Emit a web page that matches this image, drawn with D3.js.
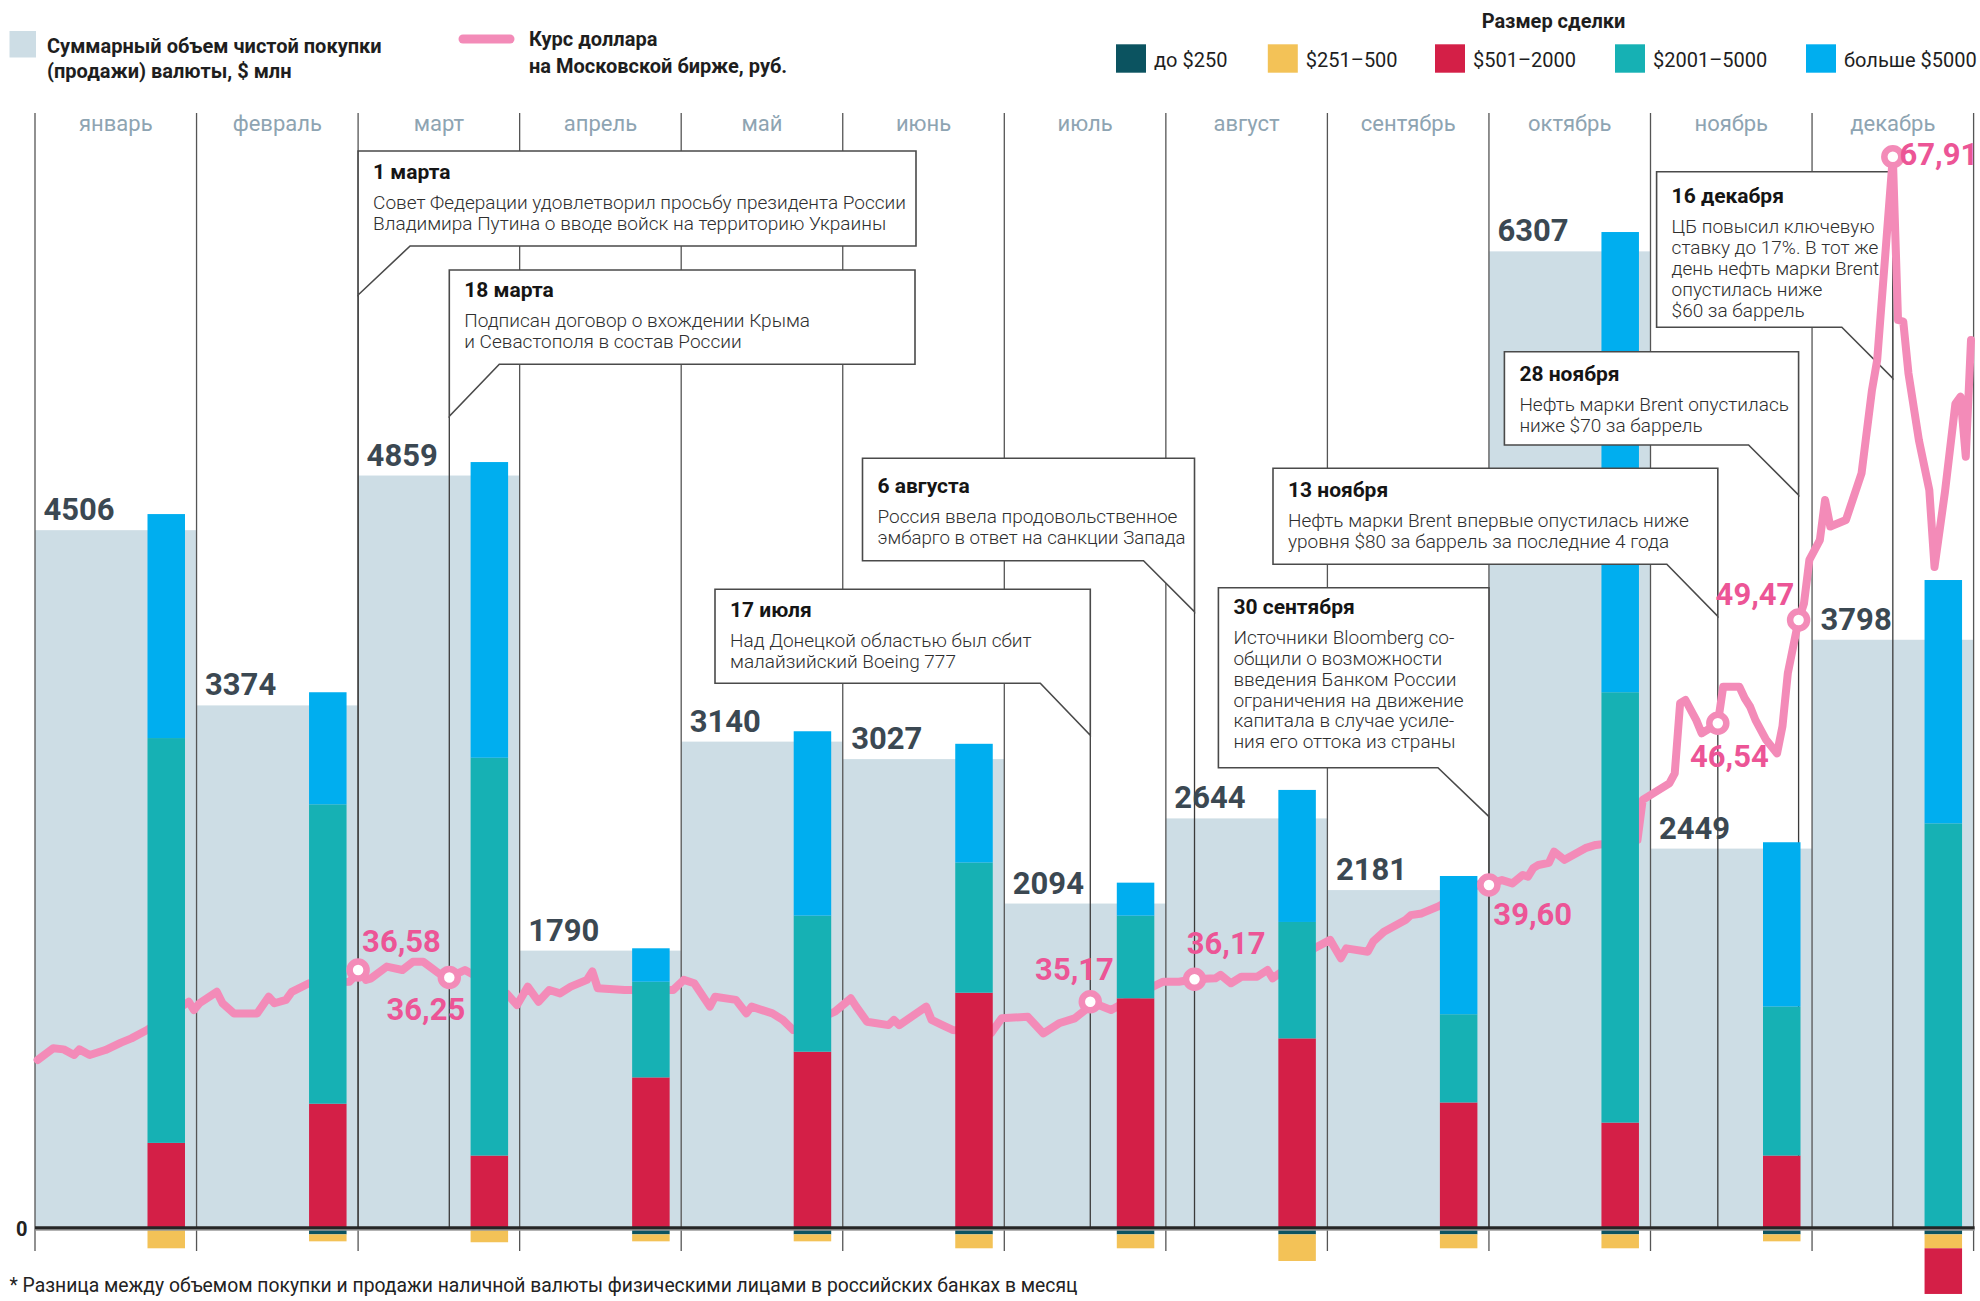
<!DOCTYPE html>
<html><head><meta charset="utf-8">
<script src="https://cdn.jsdelivr.net/npm/d3@7"></script>
<style>
body{margin:0;background:#fff}
svg{display:block}
text{font-family:Roboto,"Noto Sans",sans-serif}
</style>
</head><body>
<svg id="chart" width="1980" height="1301"></svg>
<script>
// ---------------- DATA ----------------
const MONTHS = ["январь","февраль","март","апрель","май","июнь","июль","август","сентябрь","октябрь","ноябрь","декабрь"];
const TOTALS = [4506,3374,4859,1790,3140,3027,2094,2644,2181,6307,2449,3798];

const SIZE_KEYS = ["до $250","$251–500","$501–2000","$2001–5000","больше $5000"];
const UP_TO_250      = [0,-43,0,-43,-43,-43,-43,-43,-43,-43,-43,-43];
const FROM_251_500   = [-133,-45,-94,-45,-45,-90,-90,-172,-90,-90,-45,-90];
const FROM_501_2000  = [548,801,466,971,1137,1518,1482,1223,809,679,466,-295];
const FROM_2001_5000 = [2615,1934,2570,618,879,841,534,752,570,2780,963,2612];
const OVER_5000      = [1447,724,1910,216,1191,767,213,853,893,2973,1061,1572];

const RATE_DATES = [
 "01-01","01-04","01-06","01-08","01-09","01-11","01-14","01-17","01-19","01-22","01-30","01-31",
 "02-01","02-04","02-05","02-07","02-11","02-13","02-14","02-16","02-17","02-20","02-27",
 "03-01","03-02","03-03","03-06","03-09","03-11","03-13","03-16","03-18","03-21","03-29","03-31",
 "04-02","04-04","04-06","04-08","04-10","04-13","04-14","04-15","04-20","04-29",
 "05-01","05-03","05-06","05-07","05-11","05-13","05-14","05-18","05-20","05-22","05-30",
 "06-02","06-03","06-05","06-09","06-10","06-11","06-16","06-17","06-19","06-21","06-28","06-30",
 "07-05","07-08","07-11","07-14","07-16","07-17","07-21","07-29","07-31",
 "08-03","08-06","08-10","08-11","08-13","08-15","08-18","08-20","08-21","08-29",
 "09-01","09-03","09-04","09-08","09-09","09-11","09-15","09-16","09-18","09-21","09-29","09-30",
 "10-03","10-05","10-07","10-08","10-09","10-10","10-12","10-13","10-15","10-19","10-21","10-29","10-30",
 "11-04","11-05","11-06","11-07","11-09","11-10","11-13","11-14","11-17","11-18","11-19","11-20","11-22","11-24","11-25","11-26","11-28","11-29","11-30",
 "12-02","12-03","12-04","12-07","12-10","12-12","12-13","12-16","12-17","12-18","12-19","12-21","12-23","12-24","12-26","12-28","12-29","12-30","12-31"
];
const RATE_VALUES = [
 32.58,33.10,33.05,32.80,33.05,32.80,33.02,33.35,33.54,33.91,35.17,34.80,
 35.10,35.61,35.10,34.65,34.65,35.39,35.10,35.25,35.61,35.99,36.06,
 36.58,36.14,36.21,36.70,36.58,36.87,36.87,36.43,36.25,36.58,35.54,35.02,
 35.84,35.17,35.69,35.54,35.84,36.14,36.52,35.77,35.69,35.69,
 36.14,35.99,34.95,35.39,35.25,34.65,34.95,34.65,34.36,33.91,34.73,
 35.32,34.95,34.28,34.13,34.36,34.13,34.95,34.36,34.13,33.91,33.76,34.43,
 34.50,33.76,34.21,34.43,34.80,35.17,34.80,35.84,36.06,
 36.06,36.17,36.21,36.36,35.99,36.28,36.28,36.58,36.21,37.35,
 37.65,37.00,37.35,37.23,37.59,37.94,38.36,38.53,38.59,38.83,39.67,39.60,
 39.81,39.67,40.03,39.96,40.32,40.46,40.55,41.03,40.68,41.18,41.32,41.53,43.25,
 43.96,44.39,47.11,47.20,46.63,46.11,46.54,47.58,47.58,47.25,47.01,46.63,45.82,45.25,46.40,47.96,49.47,50.13,51.86,
 52.65,54.25,53.19,53.45,55.31,58.62,59.82,67.91,61.41,61.35,59.29,56.63,54.64,51.58,54.56,58.07,58.36,55.97,60.61
];

const EVENT_DATES  = ["03-01","03-18","07-17","08-06","09-30","11-13","11-28","12-16"];
const EVENT_RATES  = [36.58,36.25,35.17,36.17,39.60,46.54,49.47,67.91];
const EVENT_LABELS = ["36,58","36,25","35,17","36,17","39,60","46,54","49,47","67,91"];
const EVENT_TITLES = ["1 марта","18 марта","17 июля","6 августа","30 сентября","13 ноября","28 ноября","16 декабря"];
const EVENT_TEXTS = [
 ["Совет Федерации удовлетворил просьбу президента России","Владимира Путина о вводе войск на территорию Украины"],
 ["Подписан договор о вхождении Крыма","и Севастополя в состав России"],
 ["Над Донецкой областью был сбит","малайзийский Boeing 777"],
 ["Россия ввела продовольственное","эмбарго в ответ на санкции Запада"],
 ["Источники Bloomberg со-","общили о возможности","введения Банком России","ограничения на движение","капитала в случае усиле-","ния его оттока из страны"],
 ["Нефть марки Brent впервые опустилась ниже","уровня $80 за баррель за последние 4 года"],
 ["Нефть марки Brent опустилась","ниже $70 за баррель"],
 ["ЦБ повысил ключевую","ставку до 17%. В тот же","день нефть марки Brent","опустилась ниже","$60 за баррель"]
];
const RATE_TICKS = [35.17,36.58,39.60,46.54,49.47,67.91];

// ---------------- LAYOUT / STYLE ----------------
const COLORS = ["#0B5360","#F3C257","#D41F47","#16B1B4","#00AEEF"];
const GREY_BAR = "#CDDDE5";
const PINK = "#F38BB8";
const PINK_TXT = "#EC5596";
const BOX_LAYOUT = [
 {side:"left",  far:916,    top:151,   bottom:246,   tailOff:52, drop:49, titleDy:28},
 {side:"left",  far:915,    top:270,   bottom:364.3, tailOff:50, drop:52, titleDy:26.7},
 {side:"right", far:715,    top:589.3, bottom:683.3, tailOff:50, drop:52, titleDy:27.4},
 {side:"right", far:862.5,  top:458.3, bottom:560.7, tailOff:51, drop:51, titleDy:35},
 {side:"right", far:1218.4, top:587.7, bottom:767.7, tailOff:51, drop:49, titleDy:26.5},
 {side:"right", far:1273,   top:468.3, bottom:564.3, tailOff:51, drop:52, titleDy:28.4},
 {side:"right", far:1504.4, top:351.7, bottom:445,   tailOff:50, drop:50, titleDy:29},
 {side:"right", far:1656.6, top:171.7, bottom:327.3, tailOff:51, drop:51, titleDy:31.6}
];
const LABEL_OFFSETS = [
 {dx:4, dy:-18.3, anchor:"start"},
 {dx:16, dy:42.6, anchor:"end"},
 {dx:23.6, dy:-21.7, anchor:"end"},
 {dx:-7.8, dy:-24.9, anchor:"start"},
 {dx:4.4, dy:40, anchor:"start"},
 {dx:-27.8, dy:43.4, anchor:"start"},
 {dx:-4.2, dy:-15, anchor:"end"},
 {dx:85.5, dy:8.3, anchor:"end"}
];

const svg = d3.select("#chart");
const ZERO_Y = 1227.7;
const PX_PER_MLN = 0.1548;

const xMonth = d3.scaleBand().domain(MONTHS).range([35, 35 + 12*161.55]).padding(0);
const bw = xMonth.bandwidth();
const yVol = d3.scaleLinear().domain([0, 6307]).range([ZERO_Y, ZERO_Y - 6307*PX_PER_MLN]);
const yRate = d3.scaleLinear().domain(RATE_TICKS).range([1001.7, 970, 885, 723.3, 620, 156.7]);

function parseMD(s){ const [mm,dd] = s.split("-").map(Number); return {m:mm-1, d:dd, D:new Date(2014, mm, 0).getDate()}; }
function xDate(s){ const p = parseMD(s); return xMonth(MONTHS[p.m]) + (p.d - 0.5)/p.D*bw; }
function xAnchor(s){ const p = parseMD(s); if(p.d===1) return xMonth(MONTHS[p.m]); if(p.d===p.D) return xMonth(MONTHS[p.m]) + bw; return xDate(s); }

// ---- grey total bars
svg.append("g").selectAll("rect").data(TOTALS).join("rect")
  .attr("x",(d,i)=>xMonth(MONTHS[i])).attr("width",bw)
  .attr("y",d=>yVol(d)).attr("height",d=>ZERO_Y - yVol(d))
  .attr("fill",GREY_BAR);

// ---- month separators
const gLines = svg.append("g");
d3.range(13).forEach(i=>{
  const x = i<12 ? xMonth(MONTHS[i]) : xMonth(MONTHS[11]) + bw;
  gLines.append("line").attr("x1",x).attr("x2",x).attr("y1",113).attr("y2",1251)
    .attr("stroke","#555").attr("stroke-width",1.3);
});

// ---- leaders
EVENT_DATES.forEach((ds,i)=>{
  const L = BOX_LAYOUT[i]; const ax = xAnchor(ds);
  gLines.append("line").attr("x1",ax).attr("x2",ax).attr("y1",L.bottom+L.drop).attr("y2",ZERO_Y)
    .attr("stroke","#3a3a3a").attr("stroke-width",1.3);
});

// ---- boxes
function drawBox(g, i){
  const L = BOX_LAYOUT[i]; const ax = xAnchor(EVENT_DATES[i]);
  let pts, left, right;
  if(L.side==="left"){
    left = ax; right = L.far;
    pts = [[left,L.top],[right,L.top],[right,L.bottom],[left+L.tailOff,L.bottom],[left,L.bottom+L.drop]];
  } else {
    left = L.far; right = ax;
    pts = [[left,L.top],[right,L.top],[right,L.bottom+L.drop],[right-L.tailOff,L.bottom],[left,L.bottom]];
  }
  g.append("polygon").attr("points",pts.map(p=>p.join(",")).join(" "))
    .attr("fill","#fff").attr("stroke","#4a4a4a").attr("stroke-width",1.6);
  const tx = left + 15;
  const ty = L.top + L.titleDy;
  g.append("text").attr("x",tx).attr("y",ty).attr("font-size",21).attr("font-weight",700)
    .attr("fill","#151515").text(EVENT_TITLES[i]);
  const maxW = right - left - 24;
  EVENT_TEXTS[i].forEach((line,j)=>{
    const t = g.append("text").attr("x",tx).attr("y",ty + 30 + j*20.8).attr("font-size",19)
      .attr("font-weight",300).attr("fill","#2e2e2e").text(line);
    const len = t.node().getComputedTextLength();
    if(len > maxW){ t.attr("textLength",maxW).attr("lengthAdjust","spacingAndGlyphs"); }
  });
}
const gBoxUnder = svg.append("g");
drawBox(gBoxUnder, 7);

// ---- rate line
const rateData = RATE_DATES.map((d,i)=>({d, v:RATE_VALUES[i]}));
svg.append("path").datum(rateData)
  .attr("d", d3.line().x(p=>xDate(p.d)).y(p=>yRate(p.v)))
  .attr("fill","none").attr("stroke",PINK).attr("stroke-width",8)
  .attr("stroke-linejoin","round").attr("stroke-linecap","round");

// ---- stacked bars
const SERIES = [UP_TO_250, FROM_251_500, FROM_501_2000, FROM_2001_5000, OVER_5000];
const rows = MONTHS.map((m,i)=>{ const r={month:m}; SIZE_KEYS.forEach((k,j)=>r[k]=SERIES[j][i]); return r; });
const stacked = d3.stack().keys(SIZE_KEYS).offset(d3.stackOffsetDiverging)(rows);
const gStack = svg.append("g");
stacked.forEach((layer,j)=>{
  gStack.append("g").attr("fill",COLORS[j]).selectAll("rect").data(layer).join("rect")
    .attr("x",d=>xMonth(d.data.month)+112.5).attr("width",37.5)
    .attr("y",d=>yVol(Math.max(d[0],d[1])))
    .attr("height",d=>Math.abs(yVol(d[0])-yVol(d[1])));
});

// ---- zero line
svg.append("line").attr("x1",35).attr("x2",xMonth(MONTHS[11])+bw+1).attr("y1",ZERO_Y+2).attr("y2",ZERO_Y+2)
  .attr("stroke","#9a9a9a").attr("stroke-width",2);
svg.append("line").attr("x1",35).attr("x2",xMonth(MONTHS[11])+bw+1).attr("y1",ZERO_Y).attr("y2",ZERO_Y)
  .attr("stroke","#262626").attr("stroke-width",3);
svg.append("text").attr("x",16).attr("y",ZERO_Y+8).attr("font-size",20).attr("font-weight",700)
  .attr("fill","#222").text("0");

// ---- other boxes
const gBoxes = svg.append("g");
for(let i=0;i<7;i++) drawBox(gBoxes, i);

// ---- markers & rate labels
const gMark = svg.append("g");
EVENT_DATES.forEach((ds,i)=>{
  const cx = xAnchor(ds), cy = yRate(EVENT_RATES[i]);
  gMark.append("circle").attr("cx",cx).attr("cy",cy).attr("r",8.5)
    .attr("fill","#fff").attr("stroke",PINK).attr("stroke-width",6.5);
  const o = LABEL_OFFSETS[i];
  gMark.append("text").attr("x",cx+o.dx).attr("y",cy+o.dy).attr("text-anchor",o.anchor)
    .attr("font-size",31).attr("font-weight",700).attr("fill",PINK_TXT).text(EVENT_LABELS[i]);
});

// ---- total labels
svg.append("g").selectAll("text").data(TOTALS).join("text")
  .attr("x",(d,i)=>xMonth(MONTHS[i])+8.5).attr("y",d=>yVol(d)-10)
  .attr("font-size",31).attr("font-weight",700).attr("fill","#3B4852").text(d=>d);

// ---- month labels
svg.append("g").selectAll("text").data(MONTHS).join("text")
  .attr("x",d=>xMonth(d)+bw/2).attr("y",131).attr("text-anchor","middle")
  .attr("font-size",22).attr("fill","#8EA4B2").text(d=>d);

// ---- legend
const lg = svg.append("g");
lg.append("rect").attr("x",9.5).attr("y",31).attr("width",26.5).attr("height",26.5).attr("fill",GREY_BAR);
lg.append("text").attr("x",47).attr("y",53).attr("font-size",20).attr("font-weight",700).attr("fill","#1e1e1e").text("Суммарный объем чистой покупки");
lg.append("text").attr("x",47).attr("y",78).attr("font-size",20).attr("font-weight",700).attr("fill","#1e1e1e").text("(продажи) валюты, $ млн");
lg.append("line").attr("x1",463).attr("x2",510).attr("y1",39).attr("y2",39).attr("stroke",PINK).attr("stroke-width",9).attr("stroke-linecap","round");
lg.append("text").attr("x",529).attr("y",46).attr("font-size",20).attr("font-weight",700).attr("fill","#1e1e1e").text("Курс доллара");
lg.append("text").attr("x",529).attr("y",73).attr("font-size",20).attr("font-weight",700).attr("fill","#1e1e1e").text("на Московской бирже, руб.");
lg.append("text").attr("x",1553.5).attr("y",28).attr("text-anchor","middle").attr("font-size",20).attr("font-weight",700).attr("fill","#1e1e1e").text("Размер сделки");
const SW_X = [1116,1267.8,1435,1615,1806];
SIZE_KEYS.forEach((k,j)=>{
  lg.append("rect").attr("x",SW_X[j]).attr("y",44.3).attr("width",30).attr("height",28.4).attr("fill",COLORS[j]);
  lg.append("text").attr("x",SW_X[j]+38).attr("y",66.5).attr("font-size",20).attr("fill","#1e1e1e").text(k);
});

// ---- footnote
const fn = svg.append("text").attr("x",9.5).attr("y",1291.5).attr("font-size",20).attr("fill","#222")
  .text("* Разница между объемом покупки и продажи наличной валюты физическими лицами в российских банках в месяц");
if(fn.node().getComputedTextLength() > 1068){ fn.attr("textLength",1068).attr("lengthAdjust","spacingAndGlyphs"); }
</script>
</body></html>
